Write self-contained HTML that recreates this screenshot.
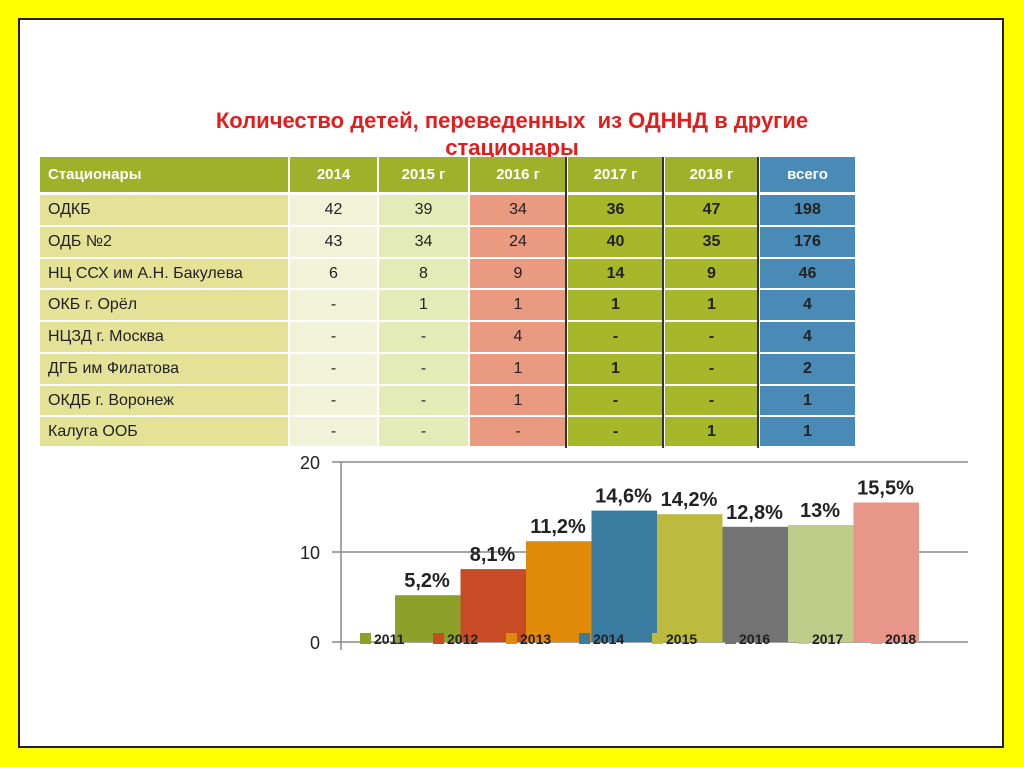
<!DOCTYPE html>
<html><head><meta charset="utf-8">
<style>
body{margin:0;width:1024px;height:767px;background:#ffff00;position:relative;overflow:hidden;font-family:"Liberation Sans","DejaVu Sans",sans-serif}
#slide{position:absolute;left:18px;top:18px;width:986px;height:730px;background:#fff;border:2px solid #222;box-sizing:border-box}
.t{position:absolute;left:0;width:1024px;text-align:center;color:#e21d1d;font-weight:bold;font-size:22px}
.c{position:absolute;box-sizing:border-box;font-size:16px;display:flex;align-items:center;justify-content:center;color:#222}
.h{color:#fff;font-weight:bold;font-size:15px}
.n{justify-content:flex-start;padding-left:8px}
.b{font-weight:bold}
</style></head><body>
<div id="slide"></div>
<div class="t" style="top:108px">Количество детей, переведенных &nbsp;из ОДННД в другие</div>
<div class="t" style="top:135px">стационары</div>
<div id="tbl"></div>
<svg id="chart" width="1024" height="767" style="position:absolute;left:0;top:0"></svg>
<script>
const colX=[40,290,379,470,568,665,760,857];
const rowY=[157,195,227,259,290,322,354,386,417,448];
const headers=["Стационары","2014","2015 г","2016 г","2017 г","2018 г","всего"];
const rows=[
["ОДКБ","42","39","34","36","47","198"],
["ОДБ №2","43","34","24","40","35","176"],
["НЦ ССХ им А.Н. Бакулева","6","8","9","14","9","46"],
["ОКБ г. Орёл","-","1","1","1","1","4"],
["НЦЗД г. Москва","-","-","4","-","-","4"],
["ДГБ им Филатова","-","-","1","1","-","2"],
["ОКДБ г. Воронеж","-","-","1","-","-","1"],
["Калуга ООБ","-","-","-","-","1","1"]];
const colBg=["#e3e297","#f1f3d8","#e3ecb6","#ea9a80","#a6b82a","#a6b82a","#4a8ab6"];
const tbl=document.getElementById('tbl');
function cell(x,y,w,h,txt,bg,cls,name){
 const d=document.createElement('div');d.className='c '+cls;
 d.style.cssText=`left:${x}px;top:${y}px;width:${w}px;height:${h}px;background:${bg}`;
 d.textContent=txt;
 
 
 tbl.appendChild(d);}
headers.forEach((h,j)=>{
 cell(colX[j],rowY[0],colX[j+1]-colX[j]-2,rowY[1]-rowY[0]-3,h,j==6?"#4a8ab6":"#9fb02b",'h'+(j==0?' n':''),'header-'+j);
});
rows.forEach((r,i)=>r.forEach((v,j)=>{
 cell(colX[j],rowY[i+1],colX[j+1]-colX[j]-2,rowY[i+2]-rowY[i+1]-2,v,colBg[j],(j==0?'n':'')+(j>=4?' b':''),'cell-r'+i+'-c'+j);
}));
[566,663,758].forEach((x,k)=>{
 const d=document.createElement('div');
 d.style.cssText=`position:absolute;left:${x-1}px;top:157px;width:2px;height:291px;background:#333`;
 
 
 tbl.appendChild(d);
});
// chart
const years=["2011","2012","2013","2014","2015","2016","2017","2018"];
const values=[5.2,8.1,11.2,14.6,14.2,12.8,13,15.5];
const labels=["5,2%","8,1%","11,2%","14,6%","14,2%","12,8%","13%","15,5%"];
const ticks=[0,10,20];
const colors=["#8da12a","#c74b25","#e08a0a","#3a7ba0","#bcbb3f","#737373","#c0cc8a","#e8968a"];
const svg=document.getElementById('chart');const NS="http://www.w3.org/2000/svg";
const y0=642,yTop=462,vmax=20;
const Y=v=>y0-(v/vmax)*(y0-yTop);
const X=i=>395+i*65.5;
function el(t,a,txt){const e=document.createElementNS(NS,t);for(const k in a)e.setAttribute(k,a[k]);if(txt!=null)e.textContent=txt;svg.appendChild(e);return e;}
ticks.forEach(t=>{
 const l=el('line',{x1:332,x2:968,y1:Y(t),y2:Y(t),stroke:'#888','stroke-width':1.5});
 
 const tx=el('text',{x:320,y:Y(t)+7,'text-anchor':'end','font-size':18,fill:'#222'},String(t));
 
});
const ax=el('line',{x1:341,x2:341,y1:yTop,y2:y0+8,stroke:'#888','stroke-width':1.5});

values.forEach((v,i)=>{
 const r=el('rect',{x:X(i),y:Y(v),width:65.5,height:y0-Y(v),fill:colors[i]});
 
 const t=el('text',{x:X(i)+32,y:Y(v)-8,'text-anchor':'middle','font-size':20,'font-weight':'bold',fill:'#222'},labels[i]);
 
 const lx=360+i*73;
 const s=el('rect',{x:lx,y:633,width:11,height:11,fill:colors[i]});
 
 const lt=el('text',{x:lx+14,y:644,'font-size':14,'font-weight':'bold',fill:'#222'},years[i]);
 
});
</script>
</body></html>
